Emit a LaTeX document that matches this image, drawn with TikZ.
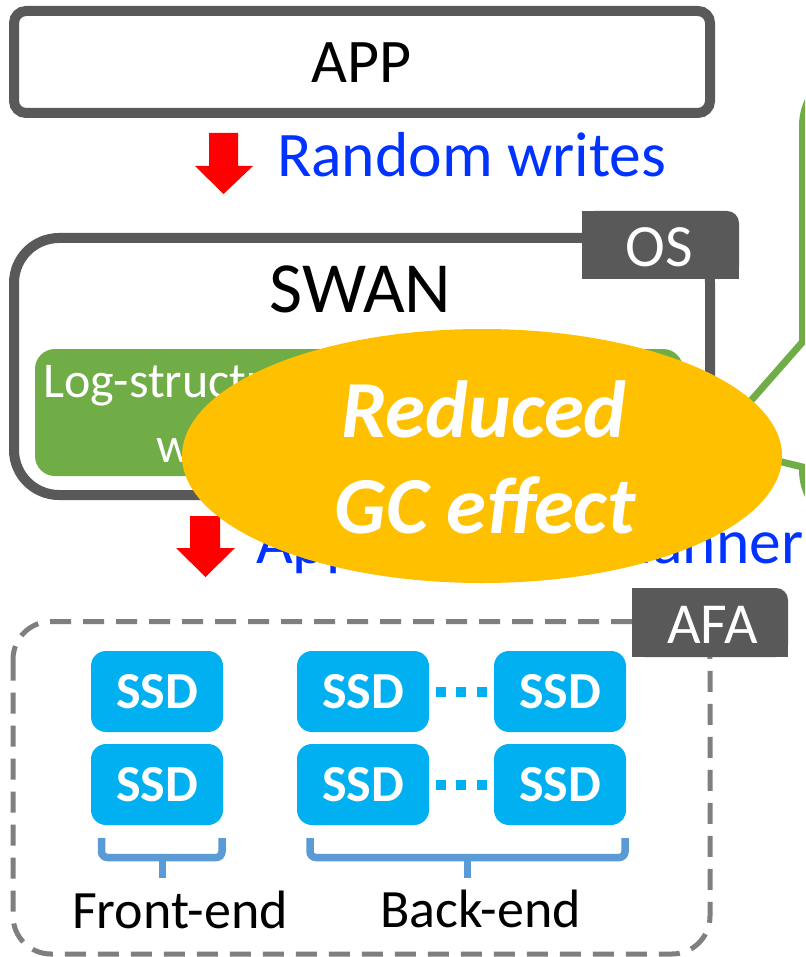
\documentclass[tikz,border=0pt]{standalone}
\usepackage{fontspec}
\setmainfont{Carlito}
\usetikzlibrary{shapes.geometric}

\definecolor{boxgray}{RGB}{89,89,89}
\definecolor{dashgray}{RGB}{127,127,127}
\definecolor{arrowred}{RGB}{255,0,0}
\definecolor{labelblue}{RGB}{0,51,255}
\definecolor{leafgreen}{RGB}{112,173,71}
\definecolor{gold}{RGB}{255,192,0}
\definecolor{ssdcyan}{RGB}{0,176,240}
\definecolor{braceblue}{RGB}{91,155,213}

\newcommand\pxfont[1]{\fontsize{#1}{#1}\selectfont}

\tikzset{
  txt/.style={inner sep=0pt, outer sep=0pt},
  layerbox/.style={draw=boxgray, line width=10pt, fill=white},
  tabfill/.style={fill=boxgray},
  tabtext/.style={txt, text=white, font=\pxfont{60}, anchor=base},
  redarrow/.style={fill=arrowred},
  flowlabel/.style={txt, text=labelblue, font=\pxfont{63.5}, anchor=base west},
  ssd/.style={fill=ssdcyan, rounded corners=15pt, minimum width=132pt,
    minimum height=81pt, inner sep=0pt, text=white, font=\pxfont{52}\bfseries},
  ssddots/.style={draw=ssdcyan, line width=10pt, dash pattern=on 10pt off 10.5pt},
  brace/.style={draw=braceblue, line width=7.5pt, rounded corners=6pt},
  groupname/.style={txt, font=\pxfont{54}, anchor=base},
}

\begin{document}
\begin{tikzpicture}[x=1pt, y=-1pt]
\useasboundingbox (0,0) rectangle (805,957);
\clip (0,0) rectangle (805,957);
\fill[white] (0,0) rectangle (805,957);

% application layer
\draw[layerbox, rounded corners=12pt] (14,11) rectangle (710,113);
\node[txt, font=\pxfont{62}, anchor=base] (app) at (361.5,83) {APP};

% random writes from the application
\fill[redarrow] (209,133) -- (238,133) -- (238,166) -- (253,166)
  -- (223.5,194) -- (195,166) -- (209,166) -- cycle;
\node[flowlabel] (random) at (277,177) {Random writes};

% OS layer with SWAN
\draw[layerbox, rounded corners=45pt] (14,238) rectangle (710,495);
\fill[tabfill, rounded corners=12pt] (582,211) rectangle (739,279);
\fill[tabfill] (582,211) rectangle (660,279);
\fill[tabfill] (582,250) rectangle (739,279);
\node[tabtext] (os) at (659,267) {OS};
\node[txt, font=\pxfont{72}, anchor=base] (swan) at (360.5,312) {SWAN};

\node[fill=leafgreen, rounded corners=20pt, minimum width=648pt,
  minimum height=127pt, inner sep=0pt] (logbox) at (359,412.5) {};
\node[txt, text=white, font=\pxfont{50}, anchor=base west] (log1) at (43,397)
  {Log-structured writes across};
\node[txt, text=white, font=\pxfont{50}, anchor=base west] (log2) at (156,462)
  {with spatial separation};

% callout outline on the right
\draw[leafgreen, line width=7pt, line join=miter]
  (900,66) -- (862.5,66) .. controls (829.4,66) and (802.5,92.9) .. (802.5,126)
  -- (802.5,342) -- (712,445) -- (802.5,467) -- (802.5,470)
  .. controls (802.5,503.1) and (829.4,530) .. (862.5,530) -- (900,530);

% appended writes towards the array
\fill[redarrow] (190,516) -- (220,516) -- (220,548) -- (235,548)
  -- (205.5,577) -- (176,548) -- (190,548) -- cycle;
\node[flowlabel] (append) at (256,563) {Append-only manner};

% highlighted effect
\node[ellipse, fill=gold, minimum width=600pt, minimum height=254pt,
  inner sep=0pt] (gc) at (482,456) {};
\node[txt, text=white, font=\pxfont{81}\bfseries\itshape, anchor=base]
  (reduced) at (484,437) {Reduced};
\node[txt, text=white, font=\pxfont{81}\bfseries\itshape, anchor=base]
  (effect) at (485,533) {GC effect};

% all-flash array
\draw[dashgray, line width=5pt, dash pattern=on 21pt off 12pt,
  rounded corners=38pt] (13,621.5) rectangle (710,954);
\fill[tabfill, rounded corners=12pt] (632,588) rectangle (788,657);
\fill[tabfill] (632,588) rectangle (710,657);
\fill[tabfill] (632,625) rectangle (788,657);
\node[tabtext, font=\pxfont{58}] (afa) at (712.5,643) {AFA};

\node[ssd] (f1) at (157,691.5) {SSD};
\node[ssd] (f2) at (157,784.5) {SSD};
\node[ssd] (b11) at (363,691.5) {SSD};
\node[ssd] (b12) at (560,691.5) {SSD};
\node[ssd] (b21) at (363,784.5) {SSD};
\node[ssd] (b22) at (560,784.5) {SSD};

\draw[ssddots] ([xshift=6.7pt]b11.east) -- ([xshift=-7.3pt]b12.west);
\draw[ssddots] ([xshift=6.7pt]b21.east) -- ([xshift=-7.3pt]b22.west);

% group braces
\draw[brace] (101.5,838) -- (101.5,857.5) -- (222,857.5) -- (222,838);
\draw[draw=braceblue, line width=7pt] (162,857.5) -- (162,878);
\draw[brace] (310,838) -- (310,857.5) -- (625,857.5) -- (625,838);
\draw[draw=braceblue, line width=7pt] (467,857.5) -- (467,878);

\node[groupname] (front) at (180,928) {Front-end};
\node[groupname] (back) at (480.5,927) {Back-end};
\end{tikzpicture}
\end{document}
